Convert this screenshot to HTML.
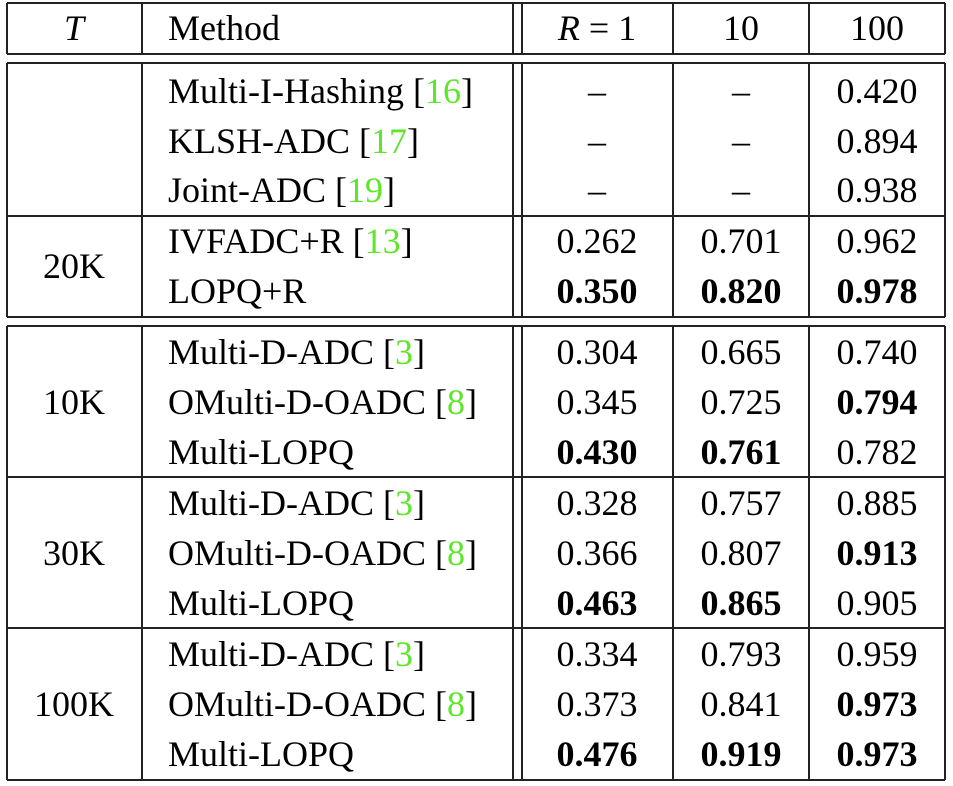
<!DOCTYPE html>
<html><head><meta charset="utf-8"><style>
body{margin:0;background:#fff}
svg{display:block}
text{font-family:"Liberation Serif",serif;font-size:36px;fill:#000}
.b{font-weight:bold}
.g{fill:#5ee62a}
line{stroke:#222;stroke-width:2}
</style></head><body>
<svg width="953" height="786" viewBox="0 0 953 786">
<g>
<line x1="7" y1="3" x2="945" y2="3"/><line x1="7" y1="54" x2="945" y2="54"/>
<line x1="7" y1="3" x2="7" y2="54"/><line x1="142" y1="3" x2="142" y2="54"/>
<line x1="513" y1="3" x2="513" y2="54"/><line x1="522" y1="3" x2="522" y2="54"/>
<line x1="673" y1="3" x2="673" y2="54"/><line x1="809" y1="3" x2="809" y2="54"/>
<line x1="945" y1="3" x2="945" y2="54"/>
<line x1="7" y1="63" x2="945" y2="63"/><line x1="7" y1="216" x2="945" y2="216"/>
<line x1="7" y1="317" x2="945" y2="317"/>
<line x1="7" y1="63" x2="7" y2="317"/><line x1="142" y1="63" x2="142" y2="317"/>
<line x1="513" y1="63" x2="513" y2="317"/><line x1="522" y1="63" x2="522" y2="317"/>
<line x1="673" y1="63" x2="673" y2="317"/><line x1="809" y1="63" x2="809" y2="317"/>
<line x1="945" y1="63" x2="945" y2="317"/>
<line x1="7" y1="326" x2="945" y2="326"/><line x1="7" y1="477" x2="945" y2="477"/>
<line x1="7" y1="628" x2="945" y2="628"/><line x1="7" y1="780" x2="945" y2="780"/>
<line x1="7" y1="326" x2="7" y2="780"/><line x1="142" y1="326" x2="142" y2="780"/>
<line x1="513" y1="326" x2="513" y2="780"/><line x1="522" y1="326" x2="522" y2="780"/>
<line x1="673" y1="326" x2="673" y2="780"/><line x1="809" y1="326" x2="809" y2="780"/>
<line x1="945" y1="326" x2="945" y2="780"/>
</g>
<g>
<text x="74" y="40" text-anchor="middle" font-style="italic">T</text>
<text x="168" y="40">Method</text>
<text x="597" y="40" text-anchor="middle"><tspan font-style="italic">R</tspan> = 1</text>
<text x="741" y="40" text-anchor="middle">10</text>
<text x="877" y="40" text-anchor="middle">100</text>
</g>
<g>
<text x="74" y="278" text-anchor="middle">20K</text>
<text x="74" y="414" text-anchor="middle">10K</text>
<text x="74" y="565" text-anchor="middle">30K</text>
<text x="74" y="716" text-anchor="middle">100K</text>
</g>
<g>
<text x="168" y="103">Multi-I-Hashing [<tspan class="g">16</tspan>]</text>
<text x="168" y="153">KLSH-ADC [<tspan class="g">17</tspan>]</text>
<text x="168" y="202">Joint-ADC [<tspan class="g">19</tspan>]</text>
<text x="168" y="253">IVFADC+R [<tspan class="g">13</tspan>]</text>
<text x="168" y="303">LOPQ+R</text>
<text x="168" y="364">Multi-D-ADC [<tspan class="g">3</tspan>]</text>
<text x="168" y="414">OMulti-D-OADC [<tspan class="g">8</tspan>]</text>
<text x="168" y="464">Multi-LOPQ</text>
<text x="168" y="515">Multi-D-ADC [<tspan class="g">3</tspan>]</text>
<text x="168" y="565">OMulti-D-OADC [<tspan class="g">8</tspan>]</text>
<text x="168" y="615">Multi-LOPQ</text>
<text x="168" y="666">Multi-D-ADC [<tspan class="g">3</tspan>]</text>
<text x="168" y="716">OMulti-D-OADC [<tspan class="g">8</tspan>]</text>
<text x="168" y="766">Multi-LOPQ</text>
</g>
<g text-anchor="middle">
<text x="597" y="103">–</text><text x="741" y="103">–</text><text x="877" y="103">0.420</text>
<text x="597" y="153">–</text><text x="741" y="153">–</text><text x="877" y="153">0.894</text>
<text x="597" y="202">–</text><text x="741" y="202">–</text><text x="877" y="202">0.938</text>
<text x="597" y="253">0.262</text><text x="741" y="253">0.701</text><text x="877" y="253">0.962</text>
<text x="597" y="303" class="b">0.350</text><text x="741" y="303" class="b">0.820</text><text x="877" y="303" class="b">0.978</text>
<text x="597" y="364">0.304</text><text x="741" y="364">0.665</text><text x="877" y="364">0.740</text>
<text x="597" y="414">0.345</text><text x="741" y="414">0.725</text><text x="877" y="414" class="b">0.794</text>
<text x="597" y="464" class="b">0.430</text><text x="741" y="464" class="b">0.761</text><text x="877" y="464">0.782</text>
<text x="597" y="515">0.328</text><text x="741" y="515">0.757</text><text x="877" y="515">0.885</text>
<text x="597" y="565">0.366</text><text x="741" y="565">0.807</text><text x="877" y="565" class="b">0.913</text>
<text x="597" y="615" class="b">0.463</text><text x="741" y="615" class="b">0.865</text><text x="877" y="615">0.905</text>
<text x="597" y="666">0.334</text><text x="741" y="666">0.793</text><text x="877" y="666">0.959</text>
<text x="597" y="716">0.373</text><text x="741" y="716">0.841</text><text x="877" y="716" class="b">0.973</text>
<text x="597" y="766" class="b">0.476</text><text x="741" y="766" class="b">0.919</text><text x="877" y="766" class="b">0.973</text>
</g>
</svg>
</body></html>
